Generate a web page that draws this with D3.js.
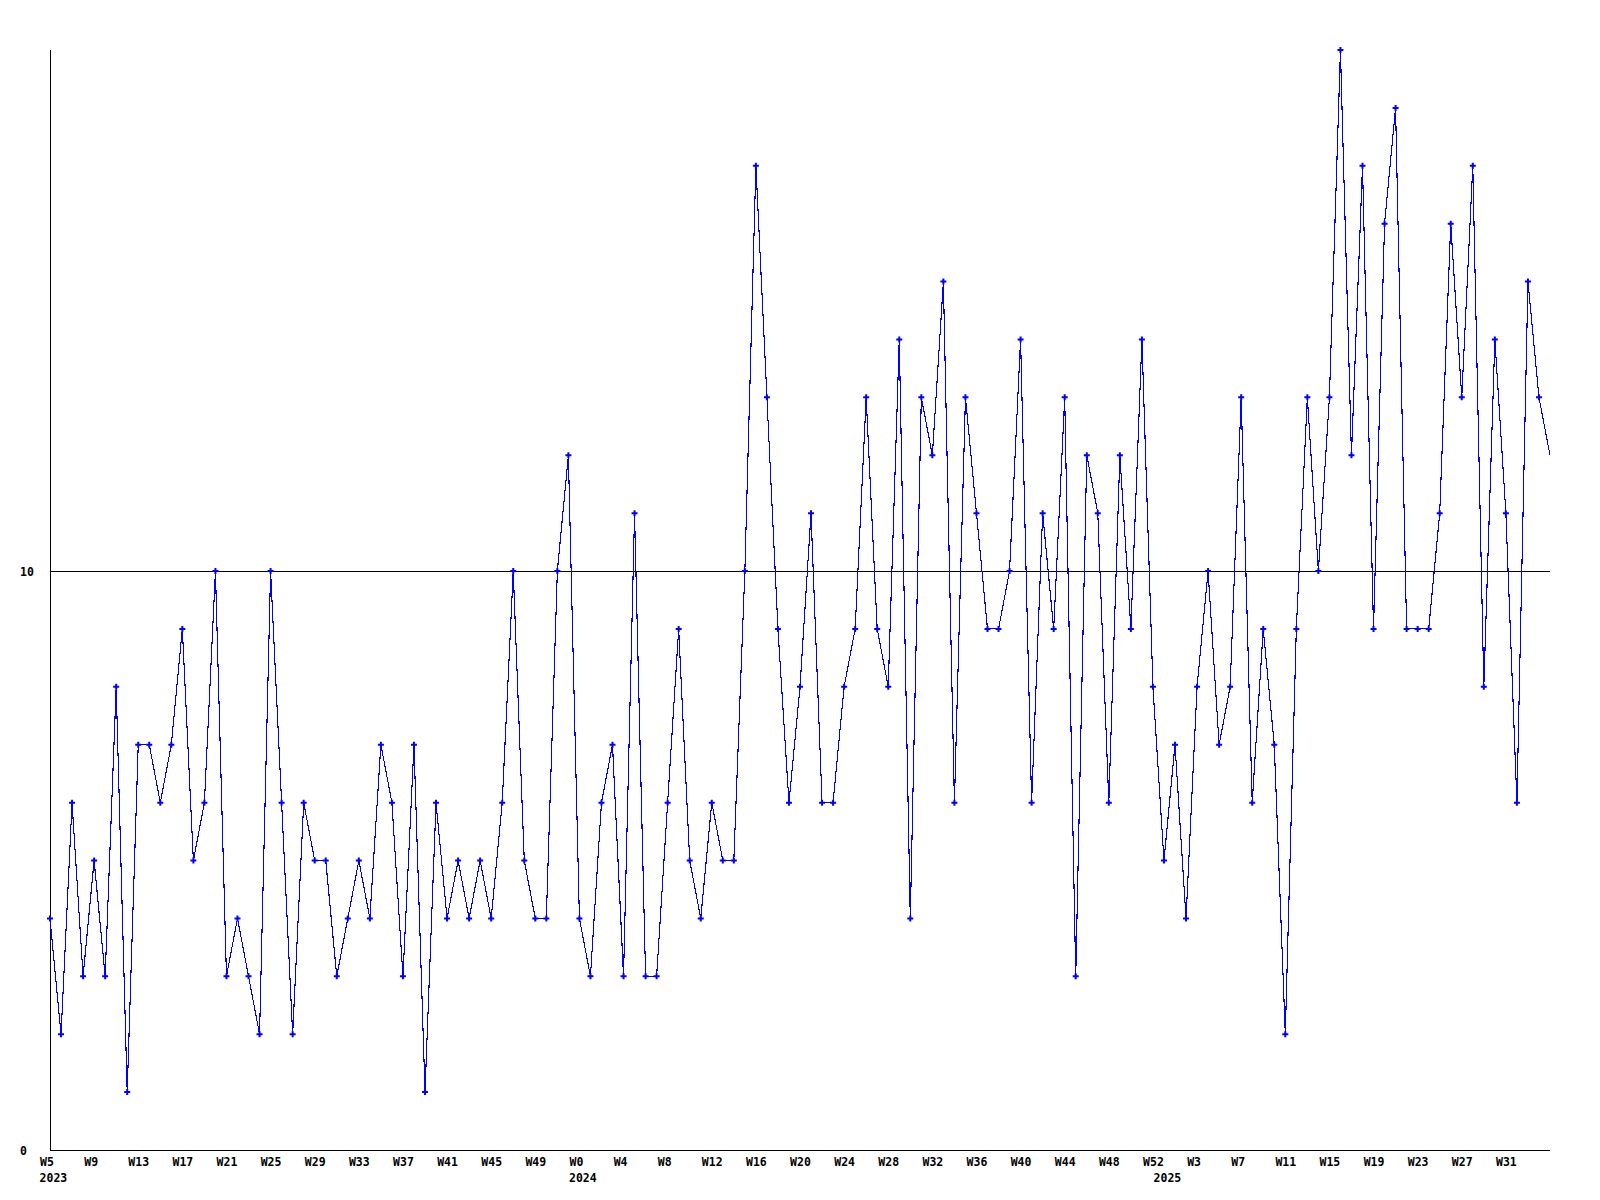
<!DOCTYPE html>
<html>
<head>
<meta charset="utf-8">
<script src="https://cdn.jsdelivr.net/npm/d3@7"></script>
<style>
  html, body { margin: 0; padding: 0; background: #fff; }
  svg { display: block; }
  text { font-family: "DejaVu Sans Mono", monospace; font-weight: bold; font-size: 11.5px; fill: #000; }
</style>
</head>
<body>
<svg id="chart" width="1600" height="1200"></svg>
<script>
// ---- data ----
const years = [2023, 2024, 2025];
const weeks2023 = [5,6,7,8,9,10,11,12,13,14,15,16,17,18,19,20,21,22,23,24,25,26,27,28,29,30,31,32,33,34,35,36,37,38,39,40,41,42,43,44,45,46,47,48,49,50,51,52];
const weeks2024 = [0,1,2,3,4,5,6,7,8,9,10,11,12,13,14,15,16,17,18,19,20,21,22,23,24,25,26,27,28,29,30,31,32,33,34,35,36,37,38,39,40,41,42,43,44,45,46,47,48,49,50,51,52];
const weeks2025 = [0,1,2,3,4,5,6,7,8,9,10,11,12,13,14,15,16,17,18,19,20,21,22,23,24,25,26,27,28,29,30,31,32,33,34,35];
const counts = [
  4,2,6,3,5,3,8,1,7,7,
  6,7,9,5,6,10,3,4,3,2,
  10,6,2,6,5,5,3,4,5,4,
  7,6,3,7,1,6,4,5,4,5,
  4,6,10,5,4,4,10,12,4,3,
  6,7,3,11,3,3,6,9,5,4,
  6,5,5,10,17,13,9,6,8,11,
  6,6,8,9,13,9,8,14,4,13,
  12,15,6,13,11,9,9,10,14,6,
  11,9,13,3,12,11,6,12,9,14,
  8,5,7,4,8,10,7,8,13,6,
  9,7,2,9,13,10,13,19,12,17,
  9,16,18,9,9,9,11,16,13,17,
  8,14,11,6,15,13,12
];
const yTicks = [0, 10];
const yMax = 19;

(function () {
  // ---- build categories ----
  const weekLists = [weeks2023, weeks2024, weeks2025];
  const cats = [];
  years.forEach((yr, j) => weekLists[j].forEach(w => cats.push({ key: yr + "-W" + w, year: yr, week: w })));
  const data = cats.map((c, i) => ({ ...c, value: counts[i] }));

  // ---- layout ----
  const mL = 50, mR = 1550, mT = 50, mB = 1150;
  const svg = d3.select("#chart");

  const x = d3.scalePoint().domain(cats.map(c => c.key)).range([mL, mR]);
  const y = d3.scaleLinear().domain([0, yMax]).range([mB, mT]);

  // gridline at 10
  svg.append("g").selectAll("line")
    .data(yTicks.filter(t => t > 0))
    .join("line")
    .attr("x1", mL).attr("x2", mR)
    .attr("y1", d => Math.round(y(d)) + 0.5).attr("y2", d => Math.round(y(d)) + 0.5)
    .attr("stroke", "#000").attr("stroke-width", 1)
    .attr("shape-rendering", "crispEdges");

  // y axis
  const yAxis = d3.axisLeft(y).tickValues(yTicks).tickSize(0).tickFormat(d3.format("d"));
  const gy = svg.append("g").attr("transform", `translate(${mL + 0.5},0)`).call(yAxis);
  gy.select(".domain").attr("d", `M0,${mT}V${mB + 0.5}`).attr("stroke", "#000").attr("shape-rendering", "crispEdges");
  gy.selectAll(".tick text")
    .attr("x", 20 - (mL + 0.5))
    .attr("text-anchor", "start")
    .attr("dy", "0.35em")
    .style("font-family", "DejaVu Sans Mono, monospace")
    .style("font-size", "11.5px")
    .style("font-weight", "bold");

  // x axis
  const tickKeys = cats.filter((c, i) => i % 4 === 0 && i < cats.length - 1).map(c => c.key);
  const weekOf = new Map(cats.map(c => [c.key, "W" + c.week]));
  const xAxis = d3.axisBottom(x).tickValues(tickKeys).tickSize(0).tickFormat(k => weekOf.get(k));
  const gx = svg.append("g").attr("transform", `translate(0,${mB + 0.5})`).call(xAxis);
  gx.select(".domain").attr("d", `M${mL},0H${mR}`).attr("stroke", "#000").attr("shape-rendering", "crispEdges");
  gx.selectAll(".tick text")
    .attr("text-anchor", "start")
    .attr("x", -10.4)
    .attr("y", 15.5)
    .attr("dy", 0)
    .style("font-family", "DejaVu Sans Mono, monospace")
    .style("font-size", "11.5px")
    .style("font-weight", "bold");

  // year labels
  const yearStarts = years.map(yr => cats.find(c => c.year === yr));
  svg.append("g").selectAll("text")
    .data(yearStarts)
    .join("text")
    .attr("x", d => x(d.key) - 10.4)
    .attr("y", mB + 31.5)
    .text(d => d.year);

  // line
  const line = d3.line().x(d => x(d.key)).y(d => y(d.value));
  svg.append("path")
    .datum(data)
    .attr("d", line)
    .attr("fill", "none")
    .attr("stroke", "#0000ff")
    .attr("stroke-width", 1.1)
    .attr("shape-rendering", "crispEdges");

  // markers (last, partial week has no marker)
  const sym = d3.symbol().type(d3.symbolCross).size(20);
  svg.append("g").selectAll("path")
    .data(data.slice(0, data.length - 1))
    .join("path")
    .attr("transform", d => `translate(${x(d.key)},${y(d.value)})`)
    .attr("d", sym)
    .attr("fill", "#0000ff");
})();
</script>
</body>
</html>
